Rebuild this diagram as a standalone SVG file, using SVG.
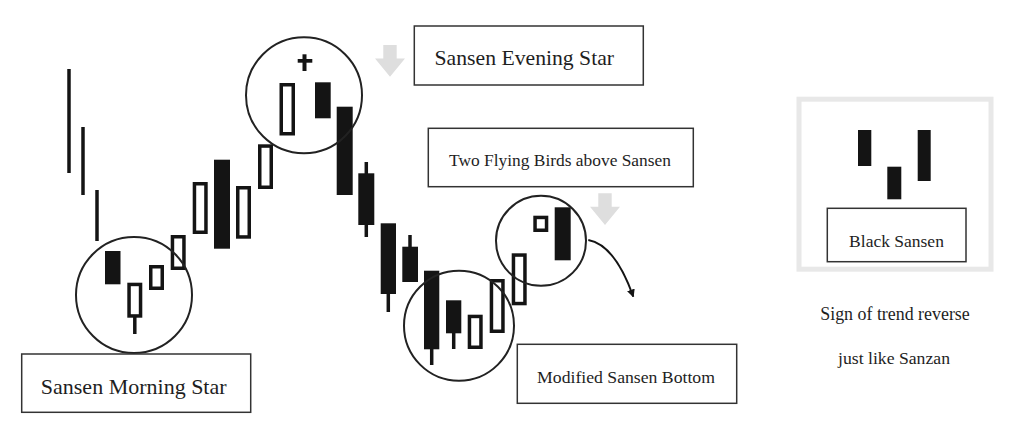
<svg xmlns="http://www.w3.org/2000/svg" width="1024" height="436" viewBox="0 0 1024 436">
<defs>
<style>
.b{fill:#141414}
.h{fill:#fff;stroke:#141414;stroke-width:3.5}
.w{stroke:#141414;stroke-width:3.5}
.c{fill:none;stroke:#222;stroke-width:2}
.box{fill:#fff;stroke:#333;stroke-width:1.5}
.t{font-family:"Liberation Serif","Times New Roman",serif;fill:#1e1e1e;text-anchor:middle}
.ga{fill:#dedede}
</style>
<marker id="ah" viewBox="0 0 10 10" refX="9" refY="5" markerWidth="8" markerHeight="8" markerUnits="userSpaceOnUse" orient="auto"><path d="M0,0 L10,5 L0,10 z" fill="#141414"/></marker>
<path id="garrow" d="M8.3,0 H21.7 V13.5 H30 L15,31.7 L0,13.5 H8.3 Z"/>
</defs>
<rect width="1024" height="436" fill="#fff"/>

<g id="trend-lines">
<line class="w" x1="69" y1="69" x2="69" y2="173"/>
<line class="w" x1="83" y1="127" x2="83" y2="195"/>
<line class="w" x1="97" y1="190" x2="97" y2="241"/>
</g>

<g id="candles">
<!-- wicks -->
<line class="w" x1="134.8" y1="316" x2="134.8" y2="334"/>
<line class="w" x1="366.3" y1="162" x2="366.3" y2="237"/>
<line class="w" x1="388.3" y1="290" x2="388.3" y2="312"/>
<line class="w" x1="410" y1="235" x2="410" y2="250"/>
<line class="w" x1="431.7" y1="345" x2="431.7" y2="365"/>
<line class="w" x1="453.7" y1="330" x2="453.7" y2="349"/>
<!-- black bodies -->
<rect class="b" x="105" y="251" width="15.5" height="33.3"/>
<rect class="b" x="214" y="159.7" width="16" height="89"/>
<rect class="b" x="315" y="82.3" width="15.7" height="36"/>
<rect class="b" x="336.7" y="106.7" width="16" height="88.3"/>
<rect class="b" x="358.3" y="173.3" width="16" height="51.7"/>
<rect class="b" x="380.7" y="223.3" width="15.3" height="70.7"/>
<rect class="b" x="402.3" y="246.7" width="15.7" height="35.3"/>
<rect class="b" x="424" y="270.7" width="15.3" height="78.6"/>
<rect class="b" x="446" y="300.3" width="15.3" height="33"/>
<rect class="b" x="554.7" y="207.3" width="16" height="53"/>
<!-- hollow bodies -->
<rect class="h" x="129.05" y="284.45" width="11.5" height="31.5"/>
<rect class="h" x="150.75" y="266.75" width="11.5" height="21.5"/>
<rect class="h" x="172.45" y="236.75" width="11.5" height="31.5"/>
<rect class="h" x="194.45" y="183.75" width="11.5" height="48.5"/>
<rect class="h" x="237.75" y="187.75" width="11.5" height="49.2"/>
<rect class="h" x="259.75" y="146.05" width="11.5" height="41.2"/>
<rect class="h" x="281.25" y="84.75" width="12" height="49"/>
<rect class="h" x="469.45" y="316.45" width="11.5" height="30.8"/>
<rect class="h" x="491.45" y="280.75" width="11.5" height="50.5"/>
<rect class="h" x="513.45" y="255.05" width="11.5" height="48.5"/>
<rect class="h" x="535.05" y="217.45" width="11.5" height="12.8"/>
<!-- doji cross -->
<rect class="b" x="302.5" y="54.3" width="4" height="16.7"/>
<rect class="b" x="297.7" y="59" width="14.6" height="3.7"/>
</g>

<g id="circles">
<circle class="c" cx="134" cy="295" r="58"/>
<circle class="c" cx="304" cy="95.3" r="58"/>
<circle class="c" cx="459" cy="325.7" r="55"/>
<circle class="c" cx="541" cy="240.8" r="45"/>
</g>

<g id="connectors">
<use href="#garrow" class="ga" x="375" y="45"/>
<use href="#garrow" class="ga" x="590" y="193.3"/>
<path d="M588.3,240 Q615,245 633.3,296.7" fill="none" stroke="#141414" stroke-width="2" marker-end="url(#ah)"/>
</g>

<g id="label-evening">
<rect class="box" x="414.3" y="26" width="229" height="59"/>
<text class="t" x="524.3" y="65" font-size="21.7">Sansen Evening Star</text>
</g>

<g id="label-flying">
<rect class="box" x="428.3" y="128.3" width="265" height="58.4"/>
<text class="t" x="560" y="166" font-size="17.4">Two Flying Birds above Sansen</text>
</g>

<g id="label-morning">
<rect class="box" x="21.7" y="354" width="229" height="58.3"/>
<text class="t" x="133.7" y="394" font-size="22">Sansen Morning Star</text>
</g>

<g id="label-modified">
<rect class="box" x="517.3" y="344.3" width="219.4" height="59"/>
<text class="t" x="626" y="382.7" font-size="17.7">Modified Sansen Bottom</text>
</g>

<g id="black-sansen">
<rect x="799" y="99.2" width="192" height="170" fill="none" stroke="#e8e8e8" stroke-width="5"/>
<rect class="b" x="858" y="130" width="13.3" height="36"/>
<rect class="b" x="887.3" y="166.7" width="14" height="32.6"/>
<rect class="b" x="917.7" y="130" width="13" height="51"/>
<rect class="box" x="827.3" y="208.3" width="138.7" height="53.4"/>
<text class="t" x="896.5" y="246.7" font-size="17.5">Black Sansen</text>
</g>

<g id="notes">
<text class="t" x="895" y="320" font-size="17.9">Sign of trend reverse</text>
<text class="t" x="894" y="363.5" font-size="17.7">just like Sanzan</text>
</g>
</svg>
